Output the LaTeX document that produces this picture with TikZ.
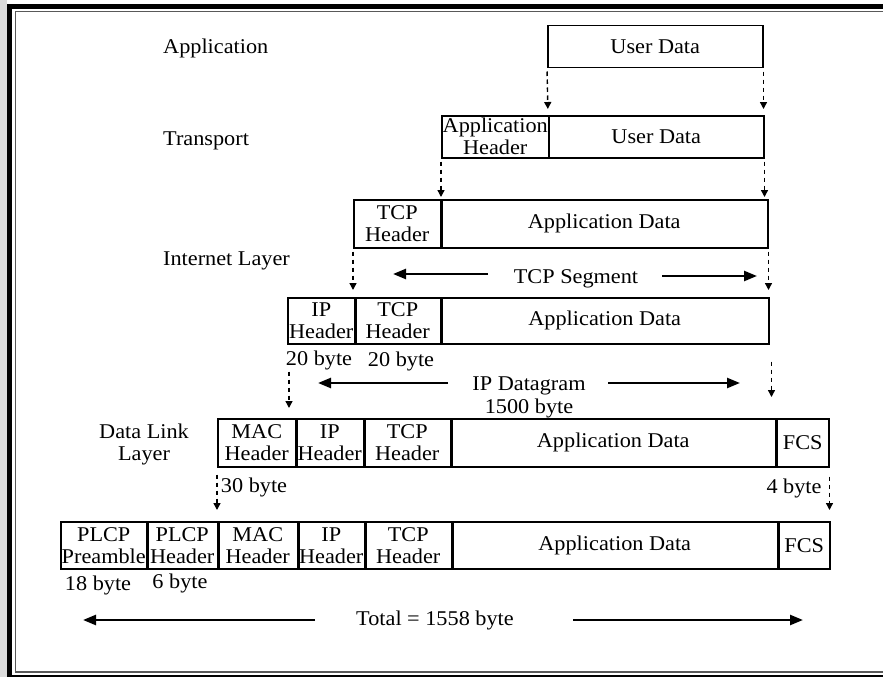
\documentclass[tikz,border=0pt]{standalone}
\usepackage{fontspec}
\setmainfont{Liberation Serif}[FakeStretch=1.06]
\usetikzlibrary{arrows.meta}
\newcommand\cf{\fontsize{21}{22}\selectfont}
\newcommand\cellnode[6]{\node[cell, anchor=north west, minimum width={(#4-#2)*1pt}, minimum height={(#5-#3)*1pt}] (#1) at (#2,#3) {#6};}
\begin{document}
\begin{tikzpicture}[x=1pt,y=-1pt,
  cell/.style={draw, line width=1.5pt, inner sep=0pt, align=center, font=\cf},
  lbl/.style={inner sep=0pt, font=\cf, align=center},
  dasharrow/.style={line width=1.4pt, dash pattern=on 4.5pt off 3.5pt, -{Triangle[length=7pt,width=7pt]}},
  bigarrow/.style={line width=2.4pt, -{Triangle[length=13pt,width=10pt]}},
  divider/.style={line width=2.6pt}]
\useasboundingbox (0,0) rectangle (883,677);
\fill[white] (0,0) rectangle (883,677);
\fill[black!14] (0,0) rectangle (7,677);
\fill[black] (7,4) rectangle (883,8.7);
\fill[black] (7,4) rectangle (12,677);
\fill[black] (7,675) rectangle (883,677);
\draw[black!65, line width=1.5pt] (883,11.5) -- (15.5,11.5) -- (15.5,672) -- (883,672);

% layer labels
\node[lbl, anchor=base west] (lapp) at (163,53) {Application};
\node[lbl, anchor=base west] (ltra) at (163,145) {Transport};
\node[lbl, anchor=base west] (linet) at (163,265) {Internet Layer};
\node[lbl] (ldl) at (144,444) {Data Link\\Layer};

% row 1
\cellnode{ud1}{547}{25}{762}{67}{User Data}
% row 2
\cellnode{ah2}{441}{115}{548}{157}{Application\\Header}
\cellnode{ud2}{548}{115}{763}{157}{User Data}
% row 3
\cellnode{tcp3}{353}{199}{440}{247}{TCP\\Header}
\cellnode{ad3}{440}{199}{767}{247}{Application Data}
% row 4
\cellnode{ip4}{287}{297}{354}{343}{IP\\Header}
\cellnode{tcp4}{354}{297}{440}{343}{TCP\\Header}
\cellnode{ad4}{440}{297}{768}{343}{Application Data}
% row 5
\cellnode{mac5}{217}{418}{295}{466}{MAC\\Header}
\cellnode{ip5}{295}{418}{363}{466}{IP\\Header}
\cellnode{tcp5}{363}{418}{450}{466}{TCP\\Header}
\cellnode{ad5}{450}{418}{775}{466}{Application Data}
\cellnode{fcs5}{776}{418}{828}{466}{FCS}
% row 6
\cellnode{pp6}{60}{521}{146}{568}{PLCP\\Preamble}
\cellnode{ph6}{146}{521}{217}{568}{PLCP\\Header}
\cellnode{mac6}{217}{521}{297}{568}{MAC\\Header}
\cellnode{ip6}{297}{521}{364}{568}{IP\\Header}
\cellnode{tcp6}{364}{521}{451}{568}{TCP\\Header}
\cellnode{ad6}{451}{521}{777}{568}{Application Data}
\cellnode{fcs6}{778}{521}{829}{568}{FCS}

% dividers
\draw[line width=1.9pt] (ah2.north east) -- (ah2.south east);
\foreach \n in {tcp3,ip4,tcp4,mac5,ip5,tcp5,pp6,ph6,mac6,ip6,tcp6}
  \draw[divider] (\n.north east) -- (\n.south east);

% byte labels
\node[lbl, anchor=base] (b20a) at (319,365) {20 byte};
\node[lbl, anchor=base] (b20b) at (401,366) {20 byte};
\node[lbl, anchor=base] (b30) at (254,492) {30 byte};
\node[lbl, anchor=base] (b4) at (794,493) {4 byte};
\node[lbl, anchor=base] (b18) at (98,590) {18 byte};
\node[lbl, anchor=base] (b6) at (180,588) {6 byte};

% dashed connectors
\draw[dasharrow, shorten <=3pt, shorten >=6pt] (ud1.south west) -- (ud2.north west);
\draw[dasharrow, shorten <=3pt, shorten >=6pt] (ud1.south east) -- (ud1.south east |- ud2.north);
\draw[dasharrow, shorten <=3pt, shorten >=2pt] (ah2.south west) -- (ah2.south west |- tcp3.north);
\draw[dasharrow, shorten <=3pt, shorten >=2pt] (ud2.south east) -- (ud2.south east |- ad3.north);
\draw[dasharrow, shorten <=3pt, shorten >=7pt] (tcp3.south west) -- (tcp3.south west |- ip4.north);
\draw[dasharrow, shorten <=3pt, shorten >=7pt] (ad3.south east) -- (ad3.south east |- ad4.north);
\draw[dasharrow, shorten <=27pt, shorten >=10pt] ([xshift=2pt]ip4.south west) -- ([xshift=2pt]ip4.south west |- mac5.north);
\draw[dasharrow, shorten <=17pt, shorten >=21pt] ([xshift=2pt]ad4.south east) -- ([xshift=2pt]ad4.south east |- mac5.north);
\draw[dasharrow, shorten <=7pt, shorten >=11pt] (mac5.south west) -- (mac5.south west |- mac6.north);
\draw[dasharrow, shorten <=9pt, shorten >=11pt] (fcs5.south east) -- (fcs5.south east |- fcs6.north);

% TCP segment
\node[lbl, anchor=base] (tseg) at (576,283) {TCP Segment};
\coordinate (ts1) at (488,274); \coordinate (ts2) at (393,274);
\coordinate (ts3) at (662,276); \coordinate (ts4) at (757,276);
\draw[bigarrow] (ts1) -- (ts2);
\draw[bigarrow] (ts3) -- (ts4);

% IP datagram
\node[lbl, anchor=base] (ipd) at (529,390) {IP Datagram};
\node[lbl, anchor=base] (ipb) at (529,413) {1500 byte};
\coordinate (id1) at (448,383); \coordinate (id2) at (318,383);
\coordinate (id3) at (608,383); \coordinate (id4) at (740,383);
\draw[bigarrow] (id1) -- (id2);
\draw[bigarrow] (id3) -- (id4);

% total
\node[lbl, anchor=base] (tot) at (435,625) {Total = 1558 byte};
\coordinate (tt1) at (315,620); \coordinate (tt2) at (83,620);
\coordinate (tt3) at (573,620); \coordinate (tt4) at (803,620);
\draw[bigarrow] (tt1) -- (tt2);
\draw[bigarrow] (tt3) -- (tt4);
\end{tikzpicture}
\end{document}
